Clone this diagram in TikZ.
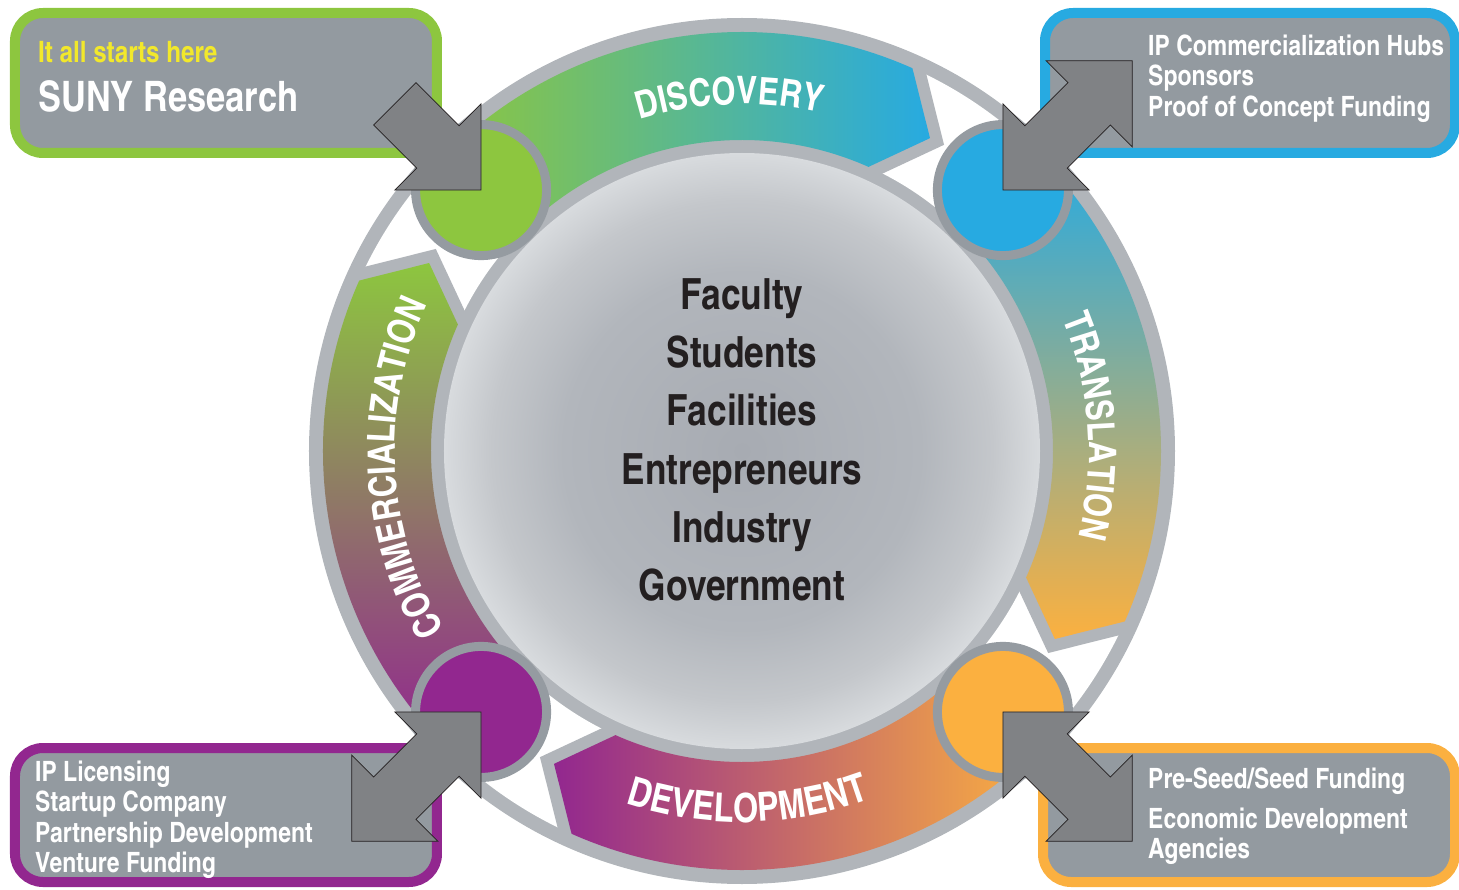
\documentclass[tikz,border=0pt]{standalone}
\usepackage{fontspec}
\newfontfamily\cnbold{texgyreheroscn-bold.otf}
\usetikzlibrary{decorations.text}

\definecolor{discgreen}{HTML}{8DC63F}
\definecolor{transblue}{HTML}{27AAE1}
\definecolor{devorange}{HTML}{FBB040}
\definecolor{commpurple}{HTML}{92278F}
\definecolor{boxgray}{HTML}{939AA0}
\definecolor{ringgray}{HTML}{B1B5BA}
\definecolor{hubgray}{HTML}{959BA1}
\definecolor{arrowgray}{HTML}{808285}
\definecolor{starttext}{HTML}{F2E82B}
\definecolor{coretext}{HTML}{231F20}
\definecolor{coremid}{HTML}{A7ABB2}
\definecolor{corehalf}{HTML}{B2B6BC}
\definecolor{corering}{HTML}{C4C7CB}
\definecolor{coreedge}{HTML}{D8DBDE}

\newcommand\bandfont{\cnbold\fontsize{38}{38}\selectfont}

\pgfdeclareradialshading{coreshade}{\pgfpoint{0bp}{0bp}}{%
  color(0bp)=(coremid); color(15bp)=(corehalf); color(21bp)=(corering);
  color(25bp)=(coreedge); color(50bp)=(coreedge)}

\tikzset{
  infobox/.style={line width=10pt, rounded corners=28pt, fill=boxgray},
  hub/.style={circle, draw=hubgray, line width=9pt, minimum size=131pt, inner sep=0pt},
  boxtext/.style={anchor=base west, text=white, inner sep=0pt, font=\cnbold\fontsize{28}{30}\selectfont},
  coretextstyle/.style={align=center, text=coretext, inner sep=0pt, font=\cnbold\fontsize{43}{58.3}\selectfont},
  blockarrow/.style={fill=arrowgray, draw=coretext, line width=0.8pt, line join=miter},
  stageband/.style={preaction={draw=ringgray, line width=24pt, line join=miter}},
  bandlabel/.style={decorate, decoration={text along path, text align=center, text color=white}}
}

\begin{document}
\begin{tikzpicture}[x=1pt, y=1pt]
  \useasboundingbox (-742,-438) rectangle (717,451);

  % corner boxes
  \draw[infobox, draw=discgreen] (-727,298) rectangle (-305,438);
  \draw[infobox, draw=transblue] (303,298) rectangle (713,438);
  \draw[infobox, draw=commpurple] (-727,-431) rectangle (-305,-297);
  \draw[infobox, draw=devorange] (301,-431) rectangle (713,-297);

  % ring
  \fill[ringgray] (0,0) circle[radius=433];
  \fill[white, even odd rule] (0,0) circle[radius=419] (0,0) circle[radius=311];

  % stages
  \path[stageband, left color=discgreen, right color=transblue]
    (135:311) arc[start angle=135, end angle=66, radius=311] -- (59:365)
    -- (66:419) arc[start angle=66, end angle=135, radius=419] -- cycle;
  \path[stageband, top color=transblue, bottom color=devorange]
    (45:311) arc[start angle=45, end angle=-24, radius=311] -- (-31:365)
    -- (-24:419) arc[start angle=-24, end angle=45, radius=419] -- cycle;
  \path[stageband, left color=commpurple, right color=devorange]
    (-45:311) arc[start angle=-45, end angle=-114, radius=311] -- (-121:365)
    -- (-114:419) arc[start angle=-114, end angle=-45, radius=419] -- cycle;
  \path[stageband, top color=discgreen, bottom color=commpurple]
    (225:311) arc[start angle=225, end angle=156, radius=311] -- (149:365)
    -- (156:419) arc[start angle=156, end angle=225, radius=419] -- cycle;

  % core
  \path[shading=coreshade] (0,0) circle[radius=298];
  \node[coretextstyle] (core) at (0,11)
    {Faculty\\Students\\Facilities\\Entrepreneurs\\Industry\\Government};

  % hubs
  \node[hub, fill=discgreen] (hubdisc) at (135:369) {};
  \node[hub, fill=transblue] (hubtrans) at (45:369) {};
  \node[hub, fill=devorange] (hubdev) at (-45:369) {};
  \node[hub, fill=commpurple] (hubcomm) at (-135:369) {};

  % stage labels
  \path[bandlabel, decoration={text={|\bandfont|DISCOVERY}}]
    (137:347) arc[start angle=137, end angle=47, radius=347];
  \path[bandlabel, decoration={text={|\bandfont|TRANSLATION}}]
    (49:347) arc[start angle=49, end angle=-41, radius=347];
  \path[bandlabel, decoration={text={|\bandfont\fontsize{40}{40}\selectfont|DEVELOPMENT}}]
    (-134:371) arc[start angle=-134, end angle=-44, radius=371];
  \path[bandlabel, decoration={text={|\bandfont|COMMERCIALIZATION}}]
    (228:347) arc[start angle=228, end angle=138, radius=347];

  % arrows
  \begin{scope}[shift={(hubdisc.center)}, rotate=-45]
    \draw[blockarrow] (0,0) -- (-61,61) -- (-61,30) -- (-122,30) -- (-122,-30)
      -- (-61,-30) -- (-61,-61) -- cycle;
  \end{scope}
  \begin{scope}[shift={(hubtrans.center)}, rotate=225]
    \draw[blockarrow] (0,0) -- (-61,61) -- (-61,30) -- (-122,30) -- (-122,61) -- (-183,0)
      -- (-122,-61) -- (-122,-30) -- (-61,-30) -- (-61,-61) -- cycle;
  \end{scope}
  \begin{scope}[shift={(hubdev.center)}, rotate=135]
    \draw[blockarrow] (0,0) -- (-61,61) -- (-61,30) -- (-122,30) -- (-122,61) -- (-183,0)
      -- (-122,-61) -- (-122,-30) -- (-61,-30) -- (-61,-61) -- cycle;
  \end{scope}
  \begin{scope}[shift={(hubcomm.center)}, rotate=45]
    \draw[blockarrow] (0,0) -- (-61,61) -- (-61,30) -- (-122,30) -- (-122,61) -- (-183,0)
      -- (-122,-61) -- (-122,-30) -- (-61,-30) -- (-61,-61) -- cycle;
  \end{scope}

  % box texts
  \node[boxtext, text=starttext, font=\cnbold\fontsize{29.5}{30}\selectfont] (startline) at (-704,388) {It all starts here};
  \node[boxtext, font=\cnbold\fontsize{42}{42}\selectfont] (sunyline) at (-704,339) {SUNY Research};
  \node[boxtext] (hubsline) at (406,395) {IP Commercialization Hubs};
  \node[boxtext] (sponsline) at (406,365) {Sponsors};
  \node[boxtext] (proofline) at (406,334) {Proof of Concept Funding};
  \node[boxtext] (licline) at (-707,-330) {IP Licensing};
  \node[boxtext] (startupline) at (-707,-360) {Startup Company};
  \node[boxtext] (partline) at (-707,-391) {Partnership Development};
  \node[boxtext] (ventline) at (-707,-421) {Venture Funding};
  \node[boxtext] (seedline) at (406,-337) {Pre-Seed/Seed Funding};
  \node[boxtext] (econline) at (406,-377) {Economic Development};
  \node[boxtext] (agencline) at (406,-407) {Agencies};
\end{tikzpicture}
\end{document}
